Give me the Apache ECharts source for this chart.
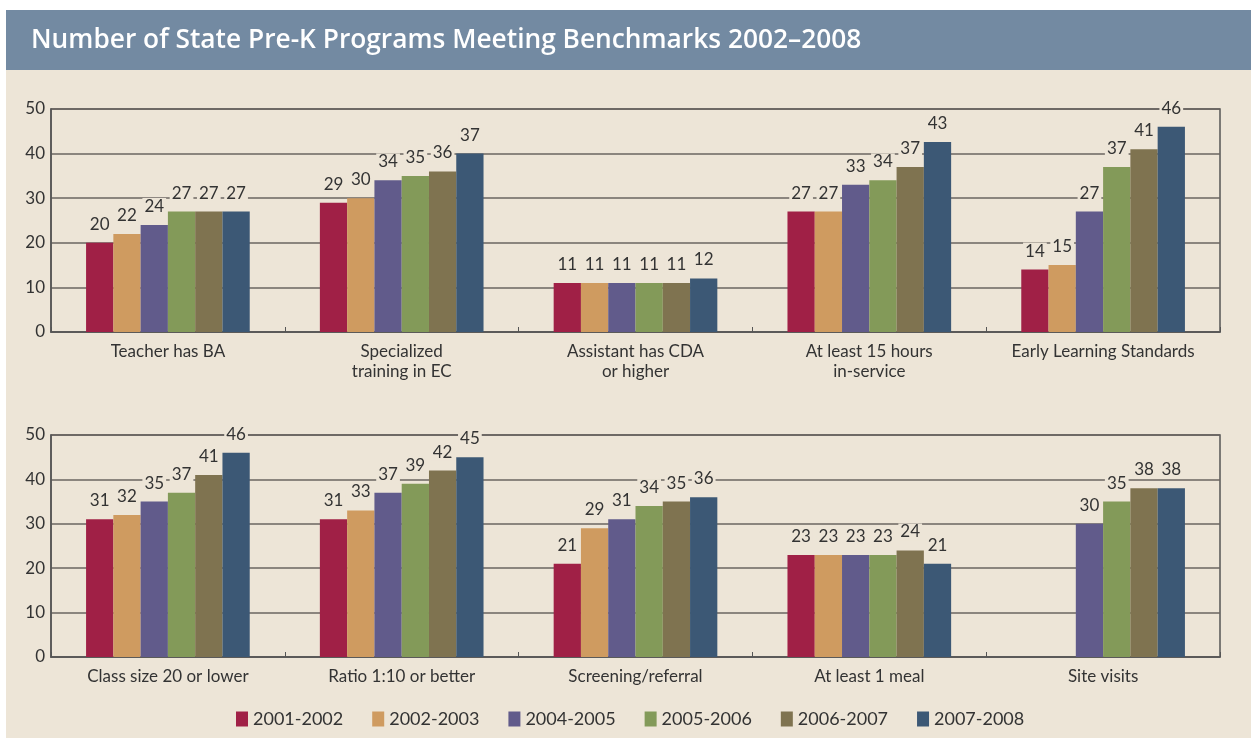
<!DOCTYPE html>
<html><head><meta charset="utf-8">
<script src="https://cdn.jsdelivr.net/npm/echarts@6/dist/echarts.min.js"></script>
<style>html,body{margin:0;padding:0;background:#fff}#c{width:1251px;height:740px}</style>
</head><body><div id="c"></div>
<script>
// ---- data ----
const titleText = 'Number of State Pre-K Programs Meeting Benchmarks 2002–2008';
const seriesNames = ['2001-2002', '2002-2003', '2004-2005', '2005-2006', '2006-2007', '2007-2008'];
const topCategories = ['Teacher has BA', 'Specialized\ntraining in EC', 'Assistant has CDA\nor higher', 'At least 15 hours\nin-service', 'Early Learning Standards'];
const bottomCategories = ['Class size 20 or lower', 'Ratio 1:10 or better', 'Screening/referral', 'At least 1 meal', 'Site visits'];
const yTicks = [0, 10, 20, 30, 40, 50];

const top2001 = [20, 29, 11, 27, 14];
const top2002 = [22, 30, 11, 27, 15];
const top2004 = [24, 34, 11, 33, 27];
const top2005 = [27, 35, 11, 34, 37];
const top2006 = [27, 36, 11, 37, 41];
const top2007 = [27, 40, 12, 42.6, 46];
const top2007Labels = ['27', '37', '12', '43', '46'];

const bot2001 = [31, 31, 21, 23, 0];
const bot2002 = [32, 33, 29, 23, 0];
const bot2004 = [35, 37, 31, 23, 30];
const bot2005 = [37, 39, 34, 23, 35];
const bot2006 = [41, 42, 35, 24, 38];
const bot2007 = [46, 45, 36, 21, 38];

const colors = ['#a02046', '#cf9b60', '#615b8b', '#839a59', '#7f7350', '#3c5875'];
const BG = '#ede5d7';
const FONT = 'Lato';

const topSets = [top2001, top2002, top2004, top2005, top2006, top2007];
const botSets = [bot2001, bot2002, bot2004, bot2005, bot2006, bot2007];
const topLabelSets = [null, null, null, null, null, top2007Labels];

function mkData(vals, labels) {
  return vals.map((v, i) => {
    const item = { value: v };
    if (v === 0) item.label = { show: false };
    else if (labels) item.label = { formatter: labels[i] };
    return item;
  });
}

const labelStyle = {
  show: true, position: 'top', distance: 10, color: '#333', fontFamily: FONT, fontSize: 17,
  backgroundColor: BG, padding: [0, 2]
};

const series = [];
seriesNames.forEach((n, i) => {
  series.push({ name: n, type: 'bar', xAxisIndex: 0, yAxisIndex: 0, data: mkData(topSets[i], topLabelSets[i]),
    itemStyle: { color: colors[i] }, barGap: '0%', barCategoryGap: '30%', label: labelStyle });
  series.push({ name: n, type: 'bar', xAxisIndex: 1, yAxisIndex: 1, data: mkData(botSets[i], null),
    itemStyle: { color: colors[i] }, barGap: '0%', barCategoryGap: '30%', label: labelStyle });
});

function xAx(cats, gi) {
  return { type: 'category', gridIndex: gi, data: cats,
    axisLine: { lineStyle: { color: '#555', width: 1.5 } },
    axisTick: { show: true, inside: true, length: 5, lineStyle: { color: '#555' } },
    axisLabel: { color: '#333', fontFamily: FONT, fontSize: 17, lineHeight: 20, margin: 10, interval: 0 } };
}
function yAx(gi) {
  return { type: 'value', gridIndex: gi, min: yTicks[0], max: yTicks[yTicks.length - 1], interval: 10,
    axisLine: { show: true, lineStyle: { color: '#555', width: 1.5 } }, axisTick: { show: false },
    axisLabel: { color: '#333', fontFamily: FONT, fontSize: 17, margin: 6 },
    splitLine: { show: true, lineStyle: { color: '#6a6560', width: 1.5 } } };
}

const chart = echarts.init(document.getElementById('c'), null, { renderer: 'canvas' });
chart.setOption({
  backgroundColor: '#fff',
  animation: false,
  color: colors,
  graphic: [
    { type: 'rect', z: -10, shape: { x: 6, y: 10, width: 1245, height: 60 }, style: { fill: '#738aa2' } },
    { type: 'rect', z: -10, shape: { x: 6, y: 70, width: 1245, height: 668 }, style: { fill: BG } }
  ],
  title: { text: titleText, left: 26, top: 23,
    textStyle: { color: '#fff', fontFamily: 'Open Sans', fontWeight: 600, fontSize: 26.3 } },
  legend: { data: seriesNames, left: 231, top: 705, icon: 'rect', itemWidth: 12, itemHeight: 15, itemGap: 29,
    textStyle: { color: '#333', fontFamily: FONT, fontSize: 18 } },
  grid: [
    { left: 51, right: 31, top: 109, height: 223, show: true, borderColor: '#555', borderWidth: 1.5, backgroundColor: 'transparent' },
    { left: 51, right: 31, top: 435, height: 222, show: true, borderColor: '#555', borderWidth: 1.5, backgroundColor: 'transparent' }
  ],
  xAxis: [xAx(topCategories, 0), xAx(bottomCategories, 1)],
  yAxis: [yAx(0), yAx(1)],
  series: series
});
</script></body></html>
